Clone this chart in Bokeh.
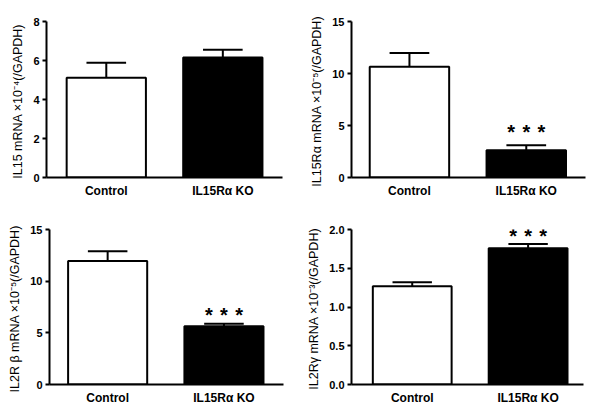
from bokeh.plotting import figure
from bokeh.layouts import column, row
from bokeh.models import Range1d, FixedTicker, NumeralTickFormatter
from bokeh.core.properties import value
from bokeh.embed import file_html
from bokeh.resources import INLINE

categories = ["Control", "IL15Rα KO"]
bar_colors = ["white", "black"]

il15_mean = [5.11, 6.15]
il15_err = [0.77, 0.40]

il15ra_mean = [10.64, 2.63]
il15ra_err = [1.34, 0.48]

il2rb_mean = [11.94, 5.63]
il2rb_err = [0.96, 0.26]

il2rg_mean = [1.267, 1.757]
il2rg_err = [0.051, 0.056]

ylabels = [
    "IL15 mRNA  ×10⁻⁴(/GAPDH)",
    "IL15Rα mRNA  ×10⁻⁵(/GAPDH)",
    "IL2R β mRNA  ×10⁻⁵(/GAPDH)",
    "IL2Rγ mRNA  ×10⁻³(/GAPDH)",
]
yticks = [[0, 2, 4, 6, 8], [0, 5, 10, 15], [0, 5, 10, 15], [0, 0.5, 1.0, 1.5, 2.0]]
significance = [False, True, True, True]

FONT = "Liberation Sans"


def panel(means, errs, ylabel, ticks, sig, w, h, xr, borders, tick_fmt=None, star_off=-10):
    left, right, top, bottom = borders
    p = figure(width=w, height=h, output_backend="svg", toolbar_location=None,
               x_range=Range1d(*xr), y_range=Range1d(ticks[0], ticks[-1]),
               min_border_left=left, min_border_right=right,
               min_border_top=top, min_border_bottom=bottom)
    p.outline_line_color = None
    p.grid.grid_line_color = None
    p.background_fill_color = "white"
    p.border_fill_color = "white"
    xs = list(range(len(categories)))
    tops = [m + e for m, e in zip(means, errs)]
    bw = 0.68
    cap = 0.17
    p.vbar(x=xs, top=means, bottom=0, width=bw, fill_color=bar_colors,
           line_color="black", line_width=2)
    p.segment(x0=xs, y0=means, x1=xs, y1=tops, line_color="black", line_width=2)
    p.segment(x0=[x - cap for x in xs], y0=tops, x1=[x + cap for x in xs], y1=tops,
              line_color="black", line_width=2)
    if sig:
        sx = [xs[1] + d for d in (-0.13, 0.0, 0.13)]
        p.text(x=sx, y=[tops[1]] * 3, text=["*"] * 3, y_offset=star_off,
               text_align="center", text_baseline="middle",
               text_font=value(FONT), text_font_size="20px", text_font_style="bold",
               text_color="black")
    # axes
    xa = p.xaxis[0]
    xa.ticker = FixedTicker(ticks=xs)
    xa.major_label_overrides = {i: c for i, c in enumerate(categories)}
    xa.major_tick_line_color = None
    xa.major_tick_out = 0
    xa.major_tick_in = 0
    xa.minor_tick_line_color = None
    xa.minor_tick_out = 0
    xa.axis_line_width = 2
    xa.major_label_text_font = FONT
    xa.major_label_text_font_style = "bold"
    xa.major_label_text_font_size = "12px"
    xa.major_label_standoff = 6
    xa.major_label_text_color = "black"

    ya = p.yaxis[0]
    ya.ticker = FixedTicker(ticks=ticks)
    if tick_fmt:
        ya.formatter = NumeralTickFormatter(format=tick_fmt)
    ya.axis_line_width = 2
    ya.major_tick_line_width = 2
    ya.major_tick_out = 4
    ya.major_tick_in = 0
    ya.minor_tick_line_color = None
    ya.minor_tick_out = 0
    ya.major_label_text_font = FONT
    ya.major_label_text_font_style = "bold"
    ya.major_label_text_font_size = "11px"
    ya.major_label_standoff = 3
    ya.major_label_text_color = "black"
    ya.axis_label = ylabel
    ya.axis_label_text_font = FONT
    ya.axis_label_text_font_style = "normal"
    ya.axis_label_text_font_size = "12.5px"
    ya.axis_label_standoff = 5
    ya.axis_label_text_color = "black"
    return p


p1 = panel(il15_mean, il15_err, ylabels[0], yticks[0], significance[0], 304, 205,
           (-0.513, 1.512), (46, 22, 21, 28), star_off=-12)
p2 = panel(il15ra_mean, il15ra_err, ylabels[1], yticks[1], significance[1], 288, 205,
           (-0.496, 1.507), (47, 7, 21, 27), star_off=-13)
p3 = panel(il2rb_mean, il2rb_err, ylabels[2], yticks[2], significance[2], 304, 204,
           (-0.50, 1.512), (49, 21, 24, 25), star_off=-9)
p4 = panel(il2rg_mean, il2rg_err, ylabels[3], yticks[3], significance[3], 288, 204,
           (-0.524, 1.478), (45, 9, 23, 25), tick_fmt="0.0", star_off=-8)

layout = column(row(p1, p2, spacing=0), row(p3, p4, spacing=0), spacing=0)
open("out.html", "w").write(file_html(layout, INLINE))
